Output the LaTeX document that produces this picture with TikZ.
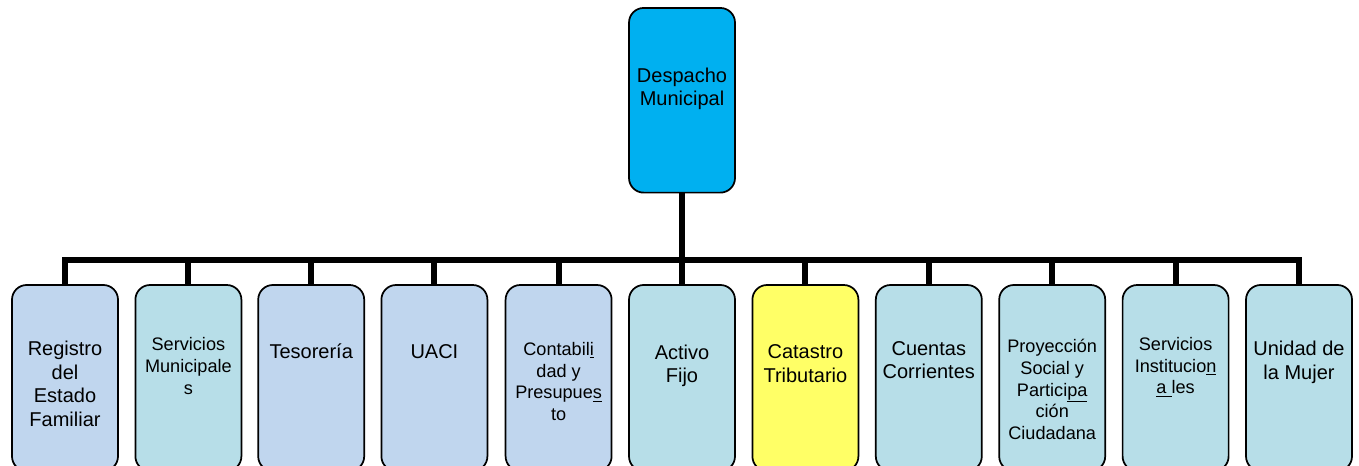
\documentclass[tikz,border=0pt]{standalone}
\usepackage{fontspec}
\setmainfont{Liberation Sans}
\definecolor{topblue}{HTML}{00B0F0}
\definecolor{lblue}{HTML}{C0D6EE}
\definecolor{lteal}{HTML}{B7DEE8}
\definecolor{lyellow}{HTML}{FFFF66}
\begin{document}
\begin{tikzpicture}[x=0.75pt,y=-0.75pt,
  box/.style={draw=black,line width=1.3pt,rounded corners=11pt,minimum width=79.5pt,minimum height=139.5pt,inner sep=0pt},
  topbox/.style={box,fill=topblue,minimum height=138.5pt},
  bluebox/.style={box,fill=lblue},
  tealbox/.style={box,fill=lteal},
  yelbox/.style={box,fill=lyellow},
  lbl/.style={align=center,inner sep=0pt,anchor=north,font=\fontsize{15pt}{17.8pt}\selectfont,execute at begin node=\strut},
  slbl/.style={lbl,font=\fontsize{13.6pt}{16.3pt}\selectfont},
  conn/.style={line width=4.6pt,black}]
\useasboundingbox (0,0) rectangle (1359,466);
\clip (0,0) rectangle (1359,466);
\coordinate (bar) at (682,260);
% nodes
\node[topbox] (top) at (682,100.3) {};
\node[bluebox] (b1) at (65,378) {};
\node[tealbox] (b2) at (188.4,378) {};
\node[bluebox] (b3) at (311.2,378) {};
\node[bluebox] (b4) at (434.4,378) {};
\node[bluebox] (b5) at (558.6,378) {};
\node[tealbox] (b6) at (682,378) {};
\node[yelbox] (b7) at (805.4,378) {};
\node[tealbox] (b8) at (928.8,378) {};
\node[tealbox] (b9) at (1052.2,378) {};
\node[tealbox] (b10) at (1175.6,378) {};
\node[tealbox] (b11) at (1299,378) {};
% connectors
\foreach \b in {b1,b2,b3,b4,b5,b6,b7,b8,b9,b10,b11}
  \draw[conn] (top.south) -- (top.south |- bar) -| (\b.north);
% labels
\node[lbl,font=\fontsize{15pt}{17pt}\selectfont] (t0) at (682,68) {Despacho\\Municipal};
\node[lbl] (t1) at (65,340.6) {Registro\\del\\Estado\\Familiar};
\node[slbl] (t2) at (188.4,337.5) {Servicios\\Municipale\\s};
\node[lbl] (t3) at (311.2,342) {Tesorería};
\node[lbl] (t4) at (434.4,342) {UACI};
\node[slbl] (t5) at (558.6,342) {Contabil\underline{i}\\dad y\\Presupue\underline{s}\\to};
\node[lbl] (t6) at (682,344.5) {Activo\\Fijo};
\node[lbl] (t7) at (805.4,344.5) {Catastro\\Tributario};
\node[lbl] (t8) at (928.8,341) {Cuentas\\Corrientes};
\node[slbl] (t9) at (1052.2,339) {Proyección\\Social y\\Partici\underline{pa}\\ción\\Ciudadana};
\node[slbl] (t10) at (1175.6,337) {Servicios\\Institucio\underline{n}\\\underline{a\ }les};
\node[lbl] (t11) at (1299,341) {Unidad de\\la Mujer};
\end{tikzpicture}
\end{document}
